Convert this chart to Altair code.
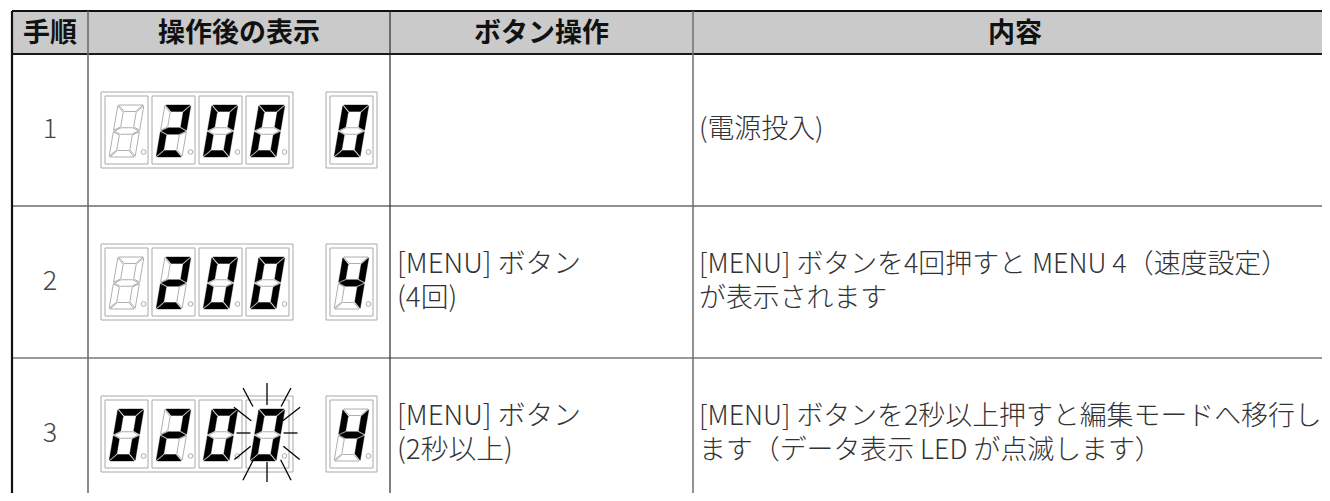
import math
import altair as alt
import pandas as pd

# ---------------- table content ----------------
col_edges = [12, 88, 390, 693, 1345]
row_edges = [11, 54, 206, 358, 510]
headers = ["手順", "操作後の表示", "ボタン操作", "内容"]
steps = ["1", "2", "3"]
button_ops = [[], ["[MENU] ボタン", "(4回)"], ["[MENU] ボタン", "(2秒以上)"]]
contents = [
    ["(電源投入)"],
    ["[MENU] ボタンを4回押すと MENU 4（速度設定）", "が表示されます"],
    ["[MENU] ボタンを2秒以上押すと編集モードへ移行し", "ます（データ表示 LED が点滅します）"],
]

# display readings per step: 4-digit data field + 1-digit menu field
data_digits = [" 200", " 200", "0200"]
menu_digits = ["0", "4", "4"]
blink_cell = [None, None, 3]  # index of blinking digit cell

# digit cell centres (x) inside the display column
cell_x = [126.5, 173.5, 220.5, 267.5]
menu_x = 351.5

SEGMENTS = {"0": "abcdef", "2": "abged", "4": "fgbc", " ": ""}

# ---------------- seven-segment glyph shapes ----------------
DW, DH, T, G, SL, R = 26.0, 52.0, 6.5, 0.8, 0.17, 36.0
w2, h2 = DW / 2, DH / 2
seg_poly = {
    "a": [(-w2 + G, h2), (w2 - G, h2), (w2 - T - G, h2 - T), (-w2 + T + G, h2 - T)],
    "d": [(-w2 + G, -h2), (w2 - G, -h2), (w2 - T - G, -h2 + T), (-w2 + T + G, -h2 + T)],
    "g": [(-w2 + G, 0), (-w2 + T + G, T / 2), (w2 - T - G, T / 2), (w2 - G, 0),
          (w2 - T - G, -T / 2), (-w2 + T + G, -T / 2)],
    "f": [(-w2, h2 - G), (-w2 + T, h2 - T - G), (-w2 + T, T / 2 + G), (-w2, G)],
    "e": [(-w2, -h2 + G), (-w2 + T, -h2 + T + G), (-w2 + T, -T / 2 - G), (-w2, -G)],
}
seg_poly["b"] = [(-x, y) for x, y in seg_poly["f"]]
seg_poly["c"] = [(-x, y) for x, y in seg_poly["e"]]
seg_names = list("abcdefg")


def to_path(pts):
    out = []
    for i, (x, y) in enumerate(pts):
        xx = (x + SL * y) / R
        yy = -y / R
        out.append(("M" if i == 0 else "L") + f"{xx:.4f},{yy:.4f}")
    return "".join(out) + "Z"


seg_paths = [to_path(seg_poly[s]) for s in seg_names]
SEG_SIZE = (2 * R) ** 2

# ---------------- build data ----------------
row_mid = [(row_edges[i] + row_edges[i + 1]) / 2 for i in range(1, 4)]
LINE_H = 34

seg_rows, dp_rows, box_rows = [], [], []
for r in range(3):
    yc = row_mid[r]
    cells = [(cell_x[i], data_digits[r][i]) for i in range(4)] + [(menu_x, menu_digits[r])]
    box_rows.append(dict(x=cell_x[0] - 25.5, x2=cell_x[3] + 25.5, y=yc - 38, y2=yc + 38))
    box_rows.append(dict(x=menu_x - 25.5, x2=menu_x + 25.5, y=yc - 38, y2=yc + 38))
    for cx, ch in cells:
        box_rows.append(dict(x=cx - 21.5, x2=cx + 21.5, y=yc - 34, y2=yc + 34))
        dp_rows.append(dict(x=cx + 17, y=yc + 22))
        for s in seg_names:
            seg_rows.append(dict(x=cx, y=yc + 1, seg=s, on=s in SEGMENTS[ch]))

seg_df = pd.DataFrame(seg_rows)
dp_df = pd.DataFrame(dp_rows)
box_df = pd.DataFrame(box_rows)

# blink rays around blinking digit
ray_angle = [0, 28, 52, 90, 129, 153, 180, -153, -129, -90, -52, -28]
ray_r_in = [28, 30, 20, 16.5, 21, 30, 29, 30, 21, 16.5, 20, 30]
ray_r_out = [50, 51, 42, 30.5, 42, 53, 49, 53, 42, 30.5, 42, 51]
ray_rows = []
for r, bc in enumerate(blink_cell):
    if bc is None:
        continue
    cx, cy = cell_x[bc] - 0.5, row_mid[r] - 1
    for a, ri, ro in zip(ray_angle, ray_r_in, ray_r_out):
        rad = math.radians(a)
        ray_rows.append(dict(x=cx + ri * math.sin(rad), y=cy - ri * math.cos(rad),
                             x2=cx + ro * math.sin(rad), y2=cy - ro * math.cos(rad)))
ray_df = pd.DataFrame(ray_rows)

hrule_df = pd.DataFrame([
    dict(x=col_edges[0], x2=col_edges[-1], y=row_edges[0], c="#111111", w=2.2),
    dict(x=col_edges[0], x2=col_edges[-1], y=row_edges[1], c="#1a1a1a", w=2.0),
    dict(x=col_edges[0], x2=col_edges[-1], y=row_edges[2], c="#222222", w=1.2),
    dict(x=col_edges[0], x2=col_edges[-1], y=row_edges[3], c="#777777", w=1.5),
])
vrule_df = pd.DataFrame([
    dict(x=col_edges[0], y=row_edges[0], y2=row_edges[-1], c="#111111", w=2.2),
    dict(x=col_edges[1], y=row_edges[0], y2=row_edges[-1], c="#6e6e6e", w=1.6),
    dict(x=col_edges[2], y=row_edges[0], y2=row_edges[-1], c="#2a2a2a", w=1.2),
    dict(x=col_edges[3], y=row_edges[0], y2=row_edges[-1], c="#6e6e6e", w=1.5),
])
header_band = pd.DataFrame([dict(x=col_edges[0], x2=col_edges[-1], y=row_edges[0], y2=row_edges[1])])


def line_rows(blocks, x):
    rows = []
    for i, lines in enumerate(blocks):
        n = len(lines)
        for j, t in enumerate(lines):
            rows.append(dict(x=x, y=row_mid[i] + (j - (n - 1) / 2) * LINE_H, t=t))
    return pd.DataFrame(rows, columns=["x", "y", "t"])


head_x = [(col_edges[0] + col_edges[1]) / 2, (col_edges[1] + col_edges[2]) / 2,
          (col_edges[2] + col_edges[3]) / 2, 1015]
header_df = pd.DataFrame(dict(x=head_x, y=[(row_edges[0] + row_edges[1]) / 2 + 1] * 4, t=headers))
step_df = pd.DataFrame(dict(x=[(col_edges[0] + col_edges[1]) / 2] * 3, y=row_mid, t=steps))
btn_df = line_rows(button_ops, col_edges[2] + 7)
cont_df = line_rows(contents, col_edges[3] + 6)

# ---------------- chart ----------------
W, H = 1314, 485
xs = alt.Scale(domain=[8, 8 + W], nice=False, zero=False)
ys = alt.Scale(domain=[8, 8 + H], nice=False, zero=False, reverse=True)


def X(f):
    return alt.X(f"{f}:Q", scale=xs, axis=None)


def Y(f):
    return alt.Y(f"{f}:Q", scale=ys, axis=None)


FONT = "Noto Sans CJK JP"

band = alt.Chart(header_band).mark_rect(fill="#c9cac9", clip=True).encode(
    x=X("x"), x2="x2:Q", y=Y("y"), y2="y2:Q")

hrules = alt.Chart(hrule_df).mark_rule(clip=True).encode(
    x=X("x"), x2="x2:Q", y=Y("y"),
    color=alt.Color("c:N", scale=None), strokeWidth=alt.StrokeWidth("w:Q", scale=None))

vrules = alt.Chart(vrule_df).mark_rule(clip=True).encode(
    x=X("x"), y=Y("y"), y2="y2:Q",
    color=alt.Color("c:N", scale=None), strokeWidth=alt.StrokeWidth("w:Q", scale=None))

head_txt = alt.Chart(header_df).mark_text(
    font=FONT, fontSize=27, fontWeight="bold", color="#111111", align="center", baseline="middle"
).encode(x=X("x"), y=Y("y"), text="t:N")

step_txt = alt.Chart(step_df).mark_text(
    font=FONT, fontSize=27, fontWeight=300, color="#444444", align="center", baseline="middle"
).encode(x=X("x"), y=Y("y"), text="t:N")

btn_txt = alt.Chart(btn_df).mark_text(
    font=FONT, fontSize=27.8, fontWeight=300, color="#333333", align="left", baseline="middle"
).encode(x=X("x"), y=Y("y"), text="t:N")

cont_txt = alt.Chart(cont_df).mark_text(
    font=FONT, fontSize=26.9, fontWeight=300, color="#333333", align="left", baseline="middle"
).encode(x=X("x"), y=Y("y"), text="t:N")

boxes = alt.Chart(box_df).mark_rect(fill="white", stroke="#a9a9a9", strokeWidth=1).encode(
    x=X("x"), x2="x2:Q", y=Y("y"), y2="y2:Q")

shape_enc = alt.Shape("seg:N", scale=alt.Scale(domain=seg_names, range=seg_paths), legend=None)

seg_off = alt.Chart(seg_df).transform_filter("!datum.on").mark_point(
    filled=True, fill="white", stroke="#9a9a9a", strokeWidth=0.8, opacity=1, size=SEG_SIZE
).encode(x=X("x"), y=Y("y"), shape=shape_enc)

seg_on = alt.Chart(seg_df).transform_filter("datum.on").mark_point(
    filled=True, fill="#000000", stroke="#000000", strokeWidth=0.4, opacity=1, size=SEG_SIZE
).encode(x=X("x"), y=Y("y"), shape=shape_enc)

dps = alt.Chart(dp_df).mark_point(
    shape="circle", filled=True, fill="white", stroke="#999999", strokeWidth=0.8, opacity=1, size=22
).encode(x=X("x"), y=Y("y"))

rays = alt.Chart(ray_df).mark_rule(color="#000000", strokeWidth=1.3).encode(
    x=X("x"), y=Y("y"), x2="x2:Q", y2="y2:Q")

chart = alt.layer(
    band, hrules, vrules, head_txt, step_txt, btn_txt, cont_txt,
    boxes, seg_off, seg_on, dps, rays
).properties(
    width=W, height=H, padding=0, autosize=alt.AutoSizeParams(type="none")
).configure_view(strokeWidth=0)

chart.save("out.html", embed_options={"renderer": "svg", "actions": False})
